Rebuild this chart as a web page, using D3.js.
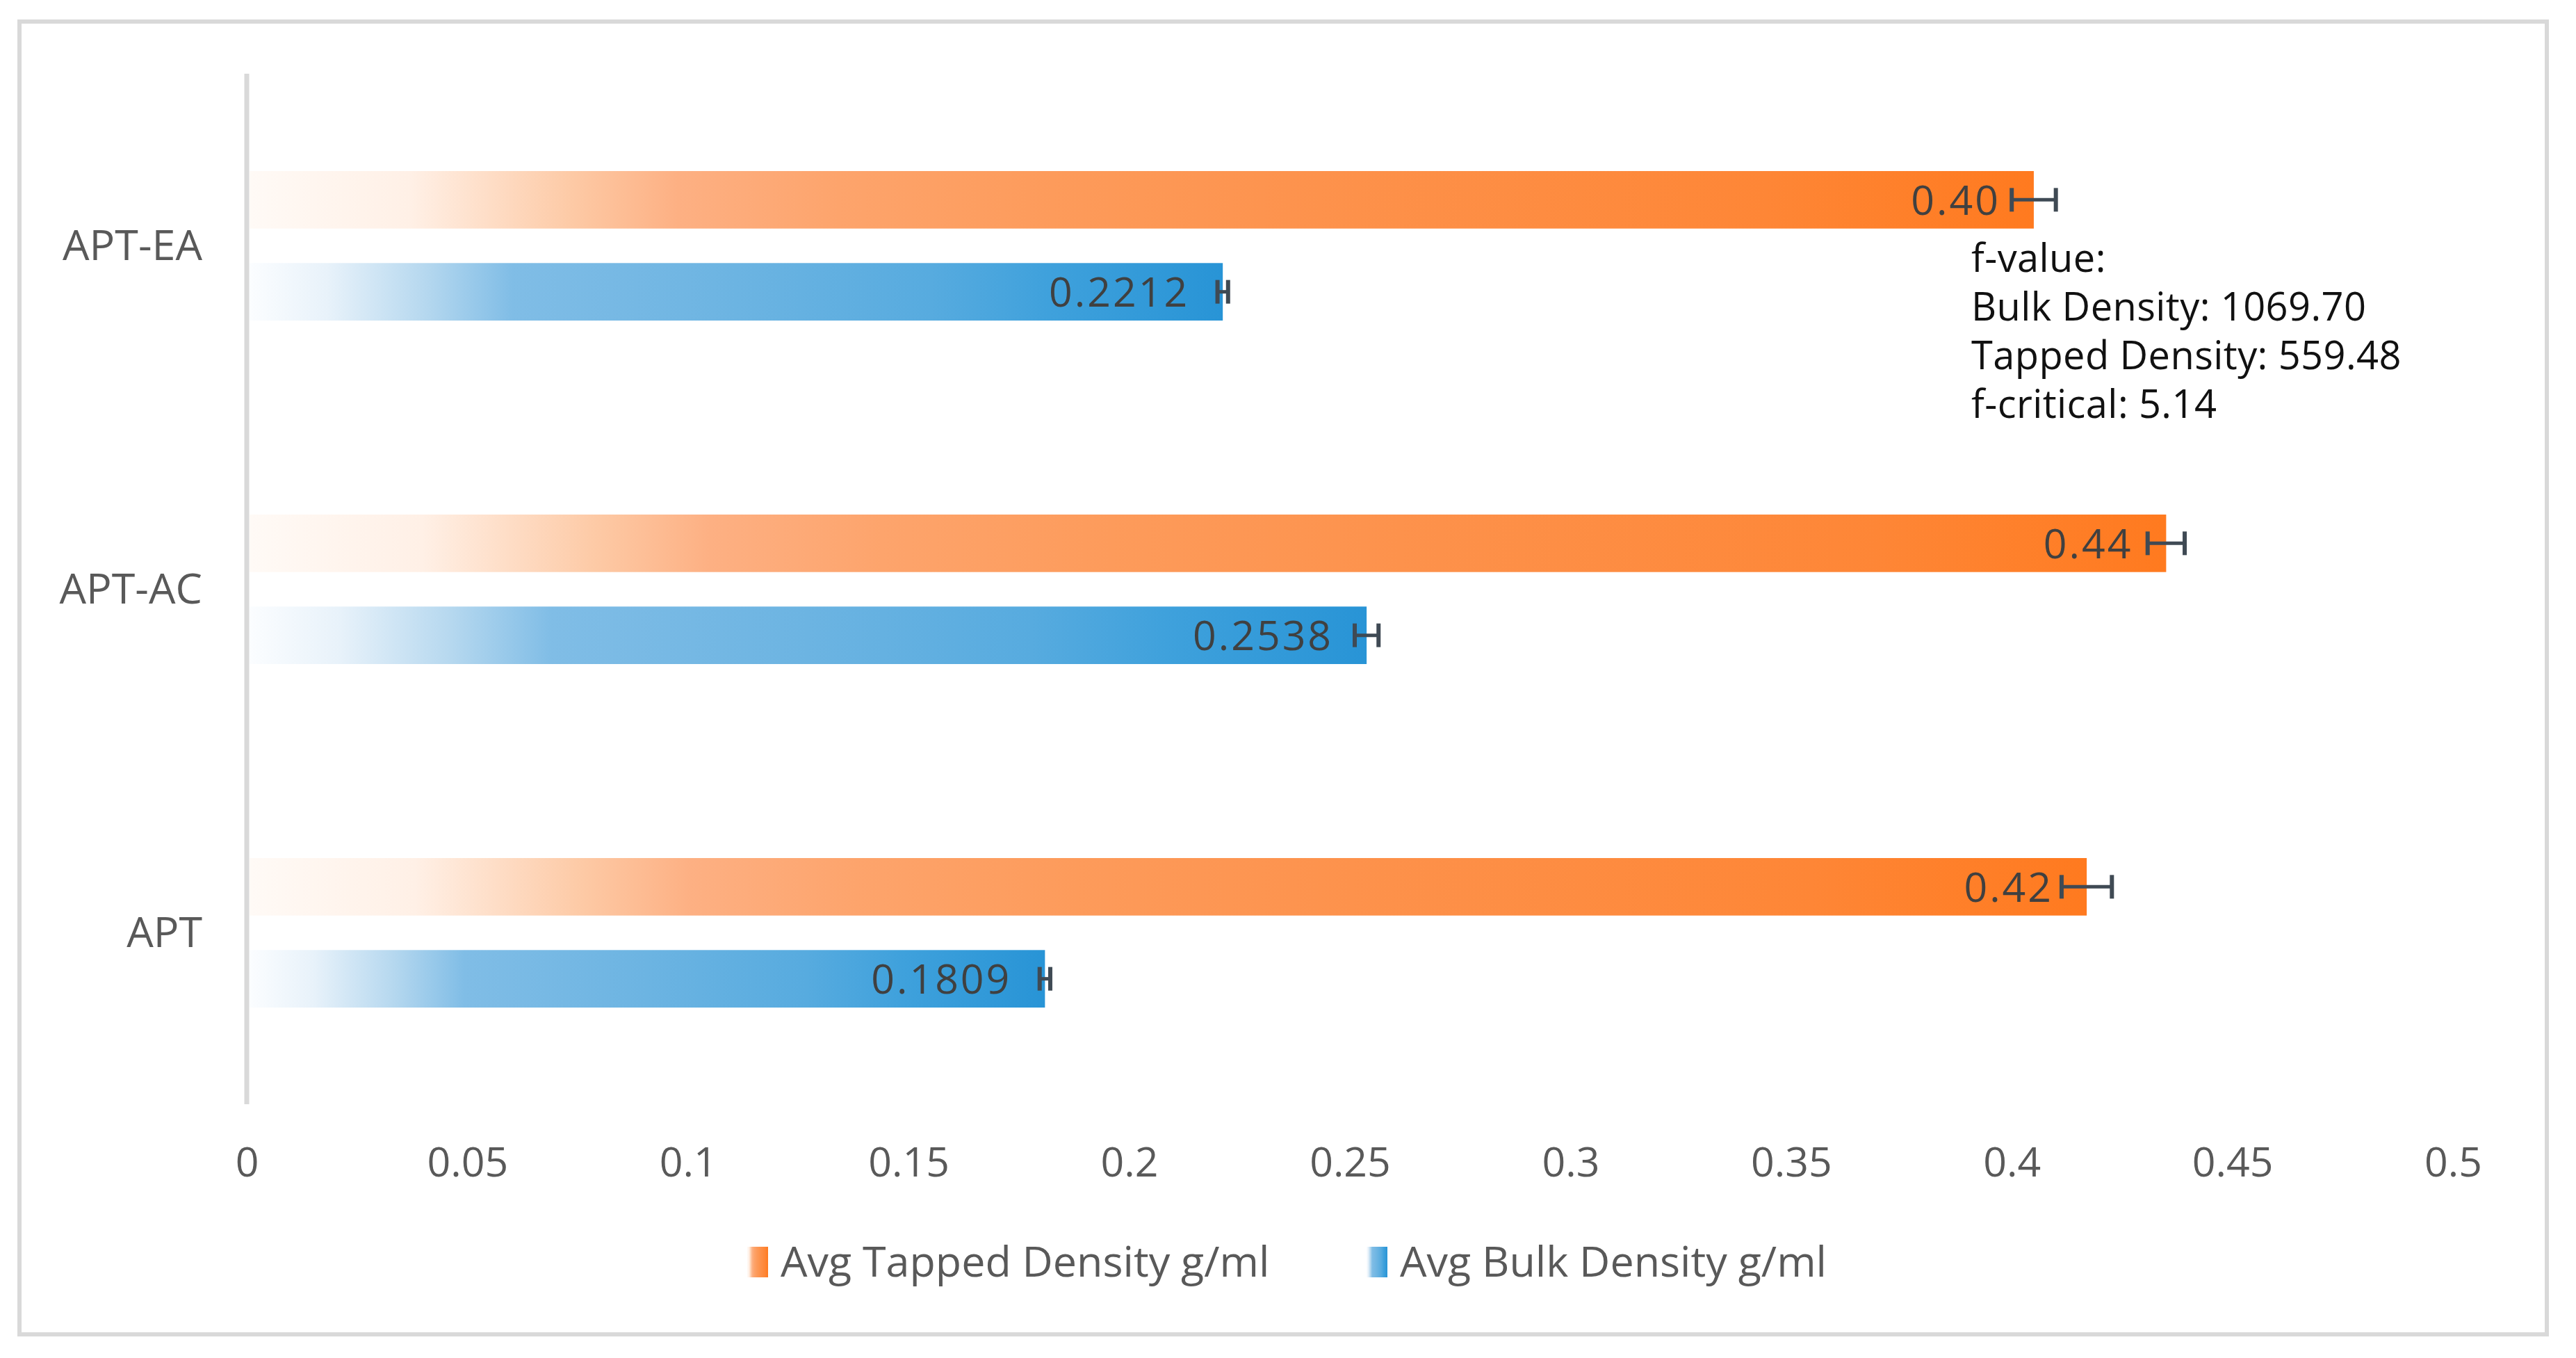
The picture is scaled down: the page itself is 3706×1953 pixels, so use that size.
<!DOCTYPE html>
<html>
<head>
<meta charset="utf-8">
<script src="https://cdn.jsdelivr.net/npm/d3@7"></script>
<style>
  body { margin: 0; background: #fff; }
  text { font-family: "Open Sans", "Noto Sans", sans-serif; }
</style>
</head>
<body>
<svg id="chart"></svg>
<script>
const categories = ["APT-EA", "APT-AC", "APT"];
const seriesNames = ["Avg Tapped Density g/ml", "Avg Bulk Density g/ml"];
const tappedValues = [0.405, 0.435, 0.417];
const tappedLabels = ["0.40", "0.44", "0.42"];
const tappedErrors = [0.005, 0.0042, 0.0057];
const bulkValues = [0.2212, 0.2538, 0.1809];
const bulkLabels = ["0.2212", "0.2538", "0.1809"];
const bulkErrors = [0.0012, 0.0027, 0.0012];
const xTicks = [0, 0.05, 0.1, 0.15, 0.2, 0.25, 0.3, 0.35, 0.4, 0.45, 0.5];
const noteLines = ["f-value:", "Bulk Density: 1069.70", "Tapped Density: 559.48", "f-critical: 5.14"];

const W = 3706, H = 1953;
const svg = d3.select("#chart").attr("width", W).attr("height", H);

// gradients: pale on the left, full colour at the bar end
const defs = svg.append("defs");
const gradStops = [
    { id: "gradTapped", stops: [[0, "#fffaf6"], [0.09, "#fff0e6"], [0.18, "#fdcaa6"], [0.24, "#fdb083"],
                                [0.33, "#fda46c"], [0.45, "#fd9b5b"], [0.6, "#fd924c"], [0.85, "#fe8636"], [1, "#ff7a1f"]] },
    { id: "gradBulk", stops: [[0, "#fbfdff"], [0.08, "#e8f2fa"], [0.18, "#b6d8ef"], [0.27, "#80bde6"],
                              [0.5, "#6cb4e2"], [0.7, "#57abdf"], [0.82, "#3fa1dc"], [1, "#2894d6"]] }
];
gradStops.forEach(g => {
    const lg = defs.append("linearGradient").attr("id", g.id)
        .attr("x1", 0).attr("x2", 1).attr("y1", 0).attr("y2", 0);
    g.stops.forEach(s => lg.append("stop").attr("offset", s[0]).attr("stop-color", s[1]));
});

svg.append("rect").attr("width", W).attr("height", H).attr("fill", "#fff");
svg.append("rect")
    .attr("x", 28).attr("y", 31).attr("width", 3636).attr("height", 1888)
    .attr("fill", "#fff").attr("stroke", "#d9d9d9").attr("stroke-width", 6);

const x = d3.scaleLinear().domain([0, 0.5]).range([355, 3529]);
const y = d3.scaleBand().domain(categories).range([106, 1588]);
const sub = d3.scaleBand().domain(["tapped", "bulk"]).range([-107, 108]).paddingInner(0.375);

const rows = categories.map((c, i) => ({
    cat: c,
    bars: [
        { key: "tapped", value: tappedValues[i], label: tappedLabels[i], err: tappedErrors[i], fill: "url(#gradTapped)" },
        { key: "bulk", value: bulkValues[i], label: bulkLabels[i], err: bulkErrors[i], fill: "url(#gradBulk)" }
    ]
}));

// category axis line
svg.append("line")
    .attr("x1", x(0)).attr("x2", x(0))
    .attr("y1", y.range()[0]).attr("y2", y.range()[1])
    .attr("stroke", "#d9d9d9").attr("stroke-width", 7);

const groups = svg.selectAll(".cat")
    .data(rows)
    .enter().append("g")
    .attr("class", "cat")
    .attr("transform", d => `translate(0,${y(d.cat) + y.bandwidth() / 2})`);

groups.append("text")
    .attr("x", 291)
    .attr("y", 0)
    .attr("dy", "0.35em")
    .attr("text-anchor", "end")
    .attr("fill", "#595959")
    .attr("font-size", 61)
    .text(d => d.cat);

const bars = groups.selectAll(".bar")
    .data(d => d.bars)
    .enter().append("g")
    .attr("class", "bar");

bars.append("rect")
    .attr("x", x(0) + 4)
    .attr("y", d => sub(d.key))
    .attr("width", d => x(d.value) - x(0) - 4)
    .attr("height", sub.bandwidth())
    .attr("fill", d => d.fill);

// value labels, inside end
bars.append("text")
    .attr("x", d => x(d.value) - 48)
    .attr("y", d => sub(d.key) + sub.bandwidth() / 2)
    .attr("dy", "0.36em")
    .attr("text-anchor", "end")
    .attr("fill", "#404040")
    .attr("font-size", 59)
    .attr("letter-spacing", 3)
    .text(d => d.label);

// error bars
const errColor = "#3f4a54";
bars.append("line")
    .attr("x1", d => x(d.value - d.err)).attr("x2", d => x(d.value + d.err))
    .attr("y1", d => sub(d.key) + sub.bandwidth() / 2)
    .attr("y2", d => sub(d.key) + sub.bandwidth() / 2)
    .attr("stroke", errColor).attr("stroke-width", 5);
[-1, 1].forEach(sgn => {
    bars.append("line")
        .attr("x1", d => x(d.value + sgn * d.err)).attr("x2", d => x(d.value + sgn * d.err))
        .attr("y1", d => sub(d.key) + sub.bandwidth() / 2 - 17)
        .attr("y2", d => sub(d.key) + sub.bandwidth() / 2 + 17)
        .attr("stroke", errColor).attr("stroke-width", 6);
});

// value axis
const xAxis = svg.append("g")
    .attr("transform", "translate(0,1651)")
    .call(d3.axisBottom(x).tickValues(xTicks).tickSize(0).tickFormat(d => String(+d.toFixed(2))));
xAxis.select(".domain").remove();
xAxis.selectAll("text")
    .attr("font-family", "Open Sans, sans-serif")
    .attr("font-size", 59)
    .attr("fill", "#595959")
    .attr("dy", "0.35em")
    .attr("y", 20);

// annotation (tight lines, Lato keeps the line boxes from touching)
svg.append("g").selectAll("text")
    .data(noteLines)
    .enter().append("text")
    .attr("x", 2836)
    .attr("y", (d, i) => 371 + i * 70)
    .attr("dy", "0.35em")
    .attr("fill", "#111")
    .attr("font-family", "Lato, sans-serif")
    .attr("font-size", 56)
    .attr("letter-spacing", 0.4)
    .text(d => d);

// legend
const legendItems = [
    { name: seriesNames[0], fill: "url(#gradTapped)", x: 1075 },
    { name: seriesNames[1], fill: "url(#gradBulk)", x: 1966 }
];
const legend = svg.selectAll(".legend")
    .data(legendItems)
    .enter().append("g")
    .attr("class", "legend")
    .attr("transform", d => `translate(${d.x},1815)`);
legend.append("rect")
    .attr("x", 0).attr("y", -22)
    .attr("width", 30).attr("height", 44)
    .attr("fill", d => d.fill);
legend.append("text")
    .attr("x", 48)
    .attr("dy", "0.35em")
    .attr("fill", "#595959")
    .attr("font-size", 61)
    .text(d => d.name);
</script>
</body>
</html>
